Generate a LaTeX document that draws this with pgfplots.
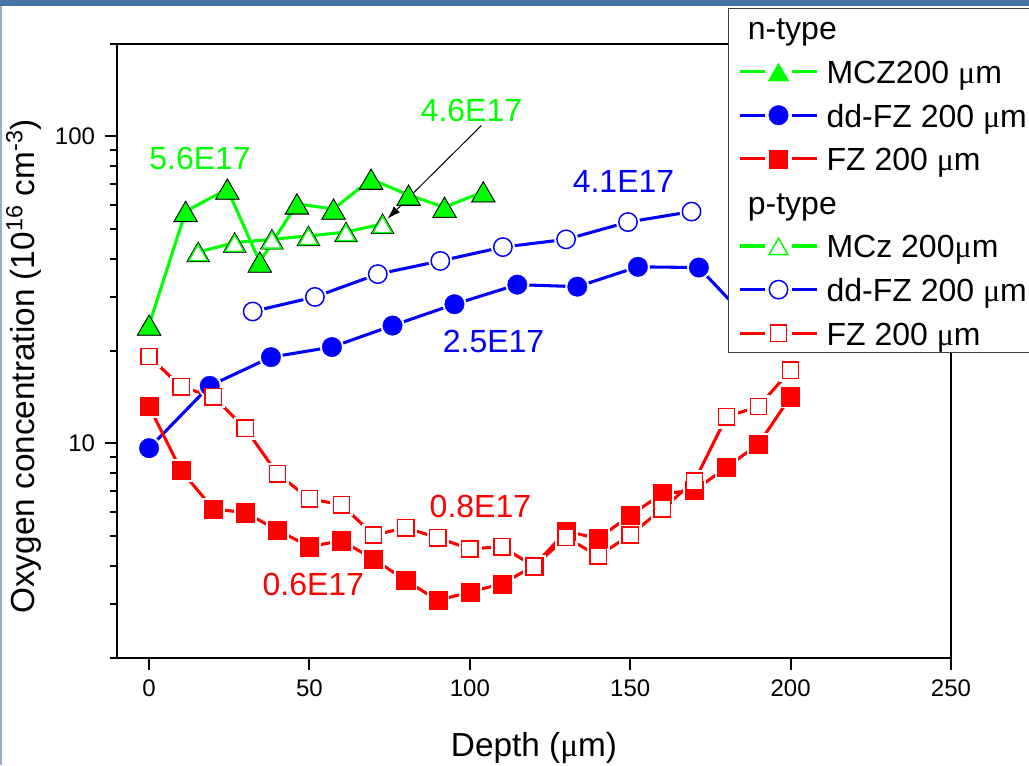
\documentclass[border=0pt]{standalone}
\usepackage{fontspec}
\setmainfont{Liberation Sans}
\newfontfamily\symfont{Liberation Serif}
\usepackage{pgfplots}
\pgfplotsset{compat=1.18}
\usepackage{pgfplotstable}
\usetikzlibrary{arrows.meta}

\definecolor{og}{RGB}{0,255,0}
\definecolor{ob}{RGB}{0,0,255}
\definecolor{orr}{RGB}{255,0,0}
\definecolor{barblue}{RGB}{72,116,166}
\definecolor{stripblue}{RGB}{148,174,203}

\newcommand{\um}{{\symfont μ}m}

% depth (um) vs oxygen concentration (1e16 cm^-3)
\pgfplotstableread{
x y
0     24.3
11.4  57.0
24.4  67.4
34.5  39.0
46.1  60.3
57.5  58.0
69.2  72.6
80.9  64.4
92.1  58.8
104.2 66.0
}\nMCZ
\pgfplotstableread{
x y
15.3 42.0
26.7 45.1
38.3 46.2
49.7 47.4
61.4 48.8
72.8 51.9
}\pMCZ
\pgfplotstableread{
x y
0     9.65
18.9  15.4
38.0  19.1
57.0  20.6
75.9  24.2
95.2  28.4
114.8 32.9
133.5 32.4
152.4 37.6
171.4 37.4
190.1 23.2
}\nDDFZ
\pgfplotstableread{
x y
32.3  26.9
51.7  30.0
71.3  35.6
90.8  39.3
110.3 43.6
130.0 46.2
149.3 52.6
169.1 56.9
}\pDDFZ
\pgfplotstableread{
x y
0   13.2
10  8.16
20  6.12
30  5.95
40  5.22
50  4.61
60  4.82
70  4.20
80  3.58
90  3.08
100 3.28
110 3.49
120 3.99
130 5.18
140 4.90
150 5.83
160 6.86
170 7.03
180 8.36
190 9.95
200 14.2
}\nFZ
\pgfplotstableread{
x y
0   19.2
10  15.3
20  14.2
30  11.2
40  7.96
50  6.60
60  6.31
70  5.03
80  5.31
90  4.93
100 4.53
110 4.61
120 3.98
130 4.94
140 4.30
150 5.03
160 6.12
170 7.53
180 12.2
190 13.2
200 17.3
}\pFZ

\pgfplotsset{
  samp/.style={legend image code/.code={%
    \draw[##1,mark=none] (0pt,0pt) -- (19pt,0pt);
    \draw[##1,mark=none] (38.75pt,0pt) -- (57.75pt,0pt);
    \draw[##1] plot coordinates {(28.875pt,0pt)};}},
  serline/.style={line width=2.3pt, forget plot},
  halo/.style={only marks, forget plot, mark options={draw=white, fill=white, line width=0.4pt}},
  % mark styles
  mkFtri/.style={mark=triangle*, mark size=8.9pt, mark options={solid, fill=og, draw=og, line width=0.3pt, yshift=-2.6pt}},
  mkOtri/.style={mark=triangle*, mark size=8.2pt, mark options={solid, fill=white, draw=og, line width=1.1pt, yshift=-2.4pt}},
  mkFcir/.style={mark=*, mark size=7.3pt, mark options={solid, fill=ob, draw=ob, line width=0.3pt}},
  mkOcir/.style={mark=*, mark size=6.9pt, mark options={solid, fill=white, draw=ob, line width=1.1pt}},
  mkFsq/.style={mark=square*, mark size=6.8pt, mark options={solid, fill=orr, draw=orr, line width=0.3pt}},
  mkOsq/.style={mark=square*, mark size=6.1pt, mark options={solid, fill=white, draw=orr, line width=1.1pt}},
}

\begin{document}
\begin{tikzpicture}
\begin{axis}[
  scale only axis,
  width=625.5pt, height=460.5pt,
  xmin=-10, xmax=250,
  ymode=log, ymin=2, ymax=200,
  xtick={0,50,100,150,200,250},
  xticklabels={0,50,100,150,200,250},
  ytick={10,100},
  yticklabels={10,100},
  minor ytick={2,3,4,5,6,7,8,9,20,30,40,50,60,70,80,90,200},
  tick pos=left,
  tick align=outside,
  major tick length=9pt,
  minor tick length=5pt,
  every tick/.style={black, line width=1.5pt},
  axis line style={line width=1.5pt},
  tick label style={font=\fontsize{18}{21}\selectfont},
  xticklabel style={yshift=-4pt},
  yticklabel style={xshift=-4pt},
  xlabel={Depth (\um)},
  ylabel={Oxygen concentration (10\textsuperscript{16} cm\textsuperscript{-3})},
  xlabel style={at={(axis description cs:0.5,-0.147)}, anchor=center, font=\fontsize{25}{29}\selectfont},
  ylabel style={at={(axis description cs:-0.112,0.475)}, anchor=center, font=\fontsize{25}{29}\selectfont},
  legend cell align=left,
  legend style={at={(axis description cs:0.7326,1.0586)}, anchor=north west,
    draw=black!75, line width=0.75pt, fill=white,
    inner xsep=7.5pt, inner ysep=3pt,
    row sep=9.45pt, column sep=6pt,
    font=\fontsize{24}{28}\selectfont,
    nodes={inner sep=0pt, text height=20.6pt, text depth=2.65pt}},
]
% connecting lines
\addplot[og, serline] table {\nMCZ};
\addplot[og, serline] table {\pMCZ};
\addplot[ob, serline] table {\nDDFZ};
\addplot[ob, serline] table {\pDDFZ};
\addplot[orr, serline] table {\nFZ};
\addplot[orr, serline] table {\pFZ};
% white gaps round the symbols
\addplot[halo, mark=triangle*, mark size=10.4pt, mark options={yshift=-2.6pt}] table {\nMCZ};
\addplot[halo, mark=triangle*, mark size=10.0pt, mark options={yshift=-2.4pt}] table {\pMCZ};
\addplot[halo, mark=*, mark size=8.8pt] table {\nDDFZ};
\addplot[halo, mark=*, mark size=8.8pt] table {\pDDFZ};
\addplot[halo, mark=square*, mark size=8.2pt] table {\nFZ};
\addplot[halo, mark=square*, mark size=8.2pt] table {\pFZ};
% symbols
\addplot[only marks, og, mkFtri, forget plot] table {\nMCZ};
\addplot[only marks, ob, mkFcir, forget plot] table {\nDDFZ};
\addplot[only marks, orr, mkFsq, forget plot] table {\nFZ};
\addplot[only marks, og, mkOtri, forget plot] table {\pMCZ};
\addplot[only marks, ob, mkOcir, forget plot] table {\pDDFZ};
\addplot[only marks, orr, mkOsq, forget plot] table {\pFZ};

% legend
\addlegendimage{empty legend}
\addlegendentry{\hspace*{-59pt}n-type}
\addlegendimage{samp, og, line width=2.3pt, mkFtri}
\addlegendentry{MCZ200 \um}
\addlegendimage{samp, ob, line width=2.3pt, mkFcir}
\addlegendentry{dd-FZ 200 \um}
\addlegendimage{samp, orr, line width=2.3pt, mkFsq}
\addlegendentry{FZ 200 \um}
\addlegendimage{empty legend}
\addlegendentry{\hspace*{-59pt}p-type}
\addlegendimage{samp, og, line width=2.3pt, mkOtri}
\addlegendentry{MCz 200\um}
\addlegendimage{samp, ob, line width=2.3pt, mkOcir}
\addlegendentry{dd-FZ 200 \um}
\addlegendimage{samp, orr, line width=2.3pt, mkOsq}
\addlegendentry{FZ 200 \um}

% annotations
\begin{scope}[font=\fontsize{24}{28}\selectfont, inner sep=0pt]
\node[text=og]  at (axis cs:15.9,84.9)  {5.6E17};
\node[text=og]  at (axis cs:100.5,121.4) {4.6E17};
\node[text=ob]  at (axis cs:147.9,71.4) {4.1E17};
\node[text=ob]  at (axis cs:107.4,21.4) {2.5E17};
\node[text=orr] at (axis cs:103.3,6.21) {0.8E17};
\node[text=orr] at (axis cs:51.2,3.47)  {0.6E17};
\end{scope}
\draw[black, line width=0.75pt, -{Latex[length=10pt,width=6.5pt]}]
  (axis cs:103.6,108.5) -- (axis cs:74.3,53.9);
\end{axis}
\pgfresetboundingbox
\path[use as bounding box] (-87.75pt,-80.25pt) rectangle (684pt,493.5pt);
\fill[barblue] (-87.75pt,489pt) rectangle (684pt,493.5pt);
\fill[stripblue] (-87.75pt,-80.25pt) rectangle (-86.25pt,489pt);
\end{tikzpicture}
\end{document}
